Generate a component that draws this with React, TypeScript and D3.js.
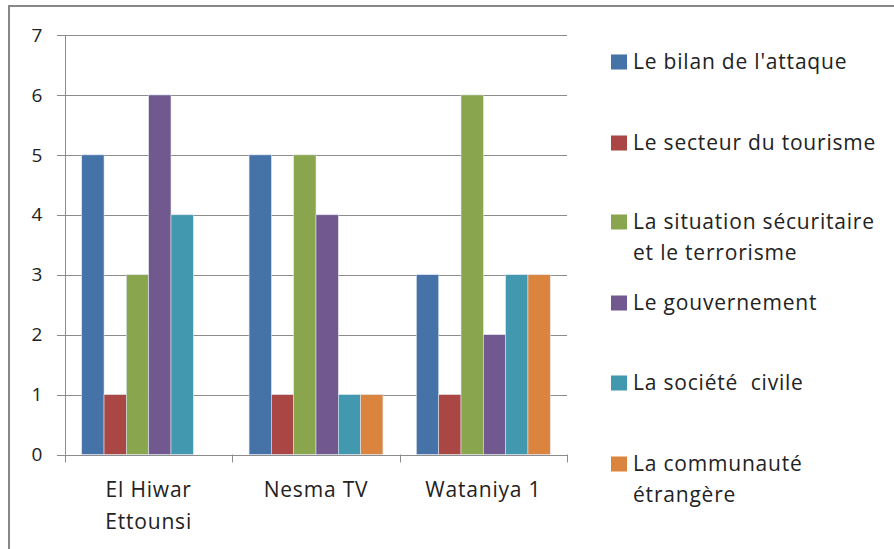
import React from 'react'
import { scaleBand, scaleLinear, range } from 'd3'

const categories = ['El Hiwar Ettounsi', 'Nesma TV', 'Wataniya 1']
const categoryLines = [['El Hiwar', 'Ettounsi'], ['Nesma TV'], ['Wataniya 1']]
const seriesNames = [
  "Le bilan de l'attaque",
  'Le secteur du tourisme',
  'La situation sécuritaire et le terrorisme',
  'Le gouvernement',
  'La société civile',
  'La communauté étrangère',
]
const legendLines = [
  ["Le bilan de l'attaque"],
  ['Le secteur du tourisme'],
  ['La situation sécuritaire', 'et le terrorisme'],
  ['Le gouvernement'],
  ['La société  civile'],
  ['La communauté', 'étrangère'],
]
const seriesColors = ['#4572A7', '#AA4643', '#89A54E', '#71588F', '#4198AF', '#DB843D']
// values per series, one per category
const bilan = [5, 5, 3]
const tourisme = [1, 1, 1]
const securite = [3, 5, 6]
const gouvernement = [6, 4, 2]
const societe = [4, 1, 3]
const communaute = [0, 1, 3]
const seriesValues = [bilan, tourisme, securite, gouvernement, societe, communaute]
const yTicks = [0, 1, 2, 3, 4, 5, 6, 7]

const W = 894
const H = 549
const plot = { left: 65, right: 567, top: 35, bottom: 454.5 }
const font = "'Open Sans', Lato, sans-serif"
const fs = 21
const ls = 0.8

const App = () => {
  const x = scaleBand().domain(categories).range([plot.left, plot.right])
  const y = scaleLinear().domain([0, 7]).range([plot.bottom, plot.top])
  const gapRatio = 1.5
  const barW = x.bandwidth() / (seriesNames.length + gapRatio)
  const inner = scaleBand()
    .domain(range(seriesNames.length).map(String))
    .range([barW * gapRatio / 2, x.bandwidth() - barW * gapRatio / 2])

  const legendY = [62, 143, 222, 303, 383, 464]
  const lineH = 31

  return (
    <svg width={W} height={H} style={{ position: 'absolute', left: 0, top: 0, background: '#fff' }}>
      <rect x={9} y={6} width={W} height={H} fill="none" stroke="#878787" strokeWidth={2} />

      {yTicks.map(t => (
        <g key={t}>
          <line x1={plot.left - 8} x2={plot.right} y1={Math.round(y(t)) + 0.5} y2={Math.round(y(t)) + 0.5}
            stroke="#8c8c8c" strokeWidth={1} />
          <text x={37} y={y(t)} dy="0.35em" textAnchor="middle" fontFamily={font} fontSize={19} fill="#222">{t}</text>
        </g>
      ))}

      {seriesValues.map((vals, si) =>
        vals.map((v, ci) => v > 0 && (
          <rect key={`${si}-${ci}`}
            x={(x(categories[ci]) ?? 0) + (inner(String(si)) ?? 0)}
            y={y(v)}
            width={inner.bandwidth()}
            height={y(0) - y(v)}
            fill={seriesColors[si]}
            stroke="#dde3ee" strokeWidth={0.6} />
        ))
      )}

      <line x1={plot.left + 0.5} x2={plot.left + 0.5} y1={plot.top} y2={plot.bottom} stroke="#8c8c8c" />
      <line x1={plot.left} x2={plot.right} y1={Math.round(y(0)) + 0.5} y2={Math.round(y(0)) + 0.5} stroke="#8c8c8c" />
      {[...categories.map(c => x(c) ?? 0), plot.right].map((px, i) => (
        <line key={i} x1={Math.round(px) + 0.5} x2={Math.round(px) + 0.5} y1={y(0)} y2={y(0) + 8} stroke="#8c8c8c" />
      ))}

      {categories.map((c, ci) => (
        <text key={c} x={(x(c) ?? 0) + x.bandwidth() / 2} y={490} textAnchor="middle"
          fontFamily={font} fontSize={fs} letterSpacing={ls} fill="#222">
          {categoryLines[ci].map((l, li) => (
            <tspan key={li} x={(x(c) ?? 0) + x.bandwidth() / 2} dy={li === 0 ? '0.35em' : 32}>{l}</tspan>
          ))}
        </text>
      ))}

      {seriesNames.map((s, si) => (
        <g key={s}>
          <rect x={611} y={legendY[si] - 7.5} width={16} height={15} fill={seriesColors[si]} />
          <text x={633} y={legendY[si]} fontFamily={font} fontSize={fs} letterSpacing={ls} fill="#222">
            {legendLines[si].map((l, li) => (
              <tspan key={li} x={633} dy={li === 0 ? '0.35em' : lineH} style={{ whiteSpace: 'pre' }}>{l}</tspan>
            ))}
          </text>
        </g>
      ))}
    </svg>
  )
}

export default App
